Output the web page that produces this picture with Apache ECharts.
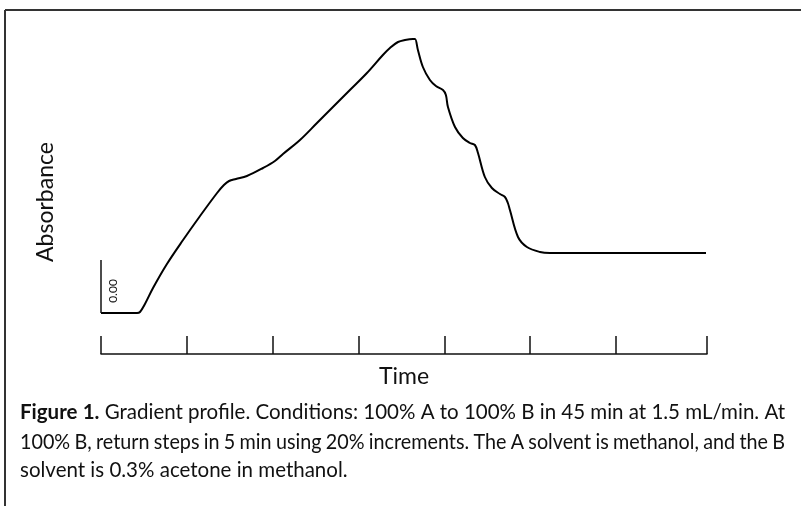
<!DOCTYPE html>
<html>
<head>
<meta charset="utf-8">
<script src="https://cdn.jsdelivr.net/npm/echarts@6/dist/echarts.min.js"></script>
<style>
  html, body { margin: 0; padding: 0; background: #fff; }
  #chart { width: 801px; height: 506px; }
</style>
</head>
<body>
<div id="chart"></div>
<script>
// Time (min) and absorbance (arbitrary units)
const times = [0, 2.10, 2.27, 2.56, 3.03, 3.84, 4.78, 5.77, 6.76, 7.16, 7.46, 7.86, 8.50, 9.44, 10.13, 10.60, 11.59, 12.58, 13.51, 14.50, 15.49, 16.42, 16.83, 17.30, 17.71, 18.17, 18.29, 18.46, 18.75, 19.16, 19.51, 19.92, 20.09, 20.21, 20.62, 21.08, 21.49, 21.78, 21.96, 22.36, 22.77, 23.24, 23.53, 23.70, 23.82, 24.29, 24.81, 25.57, 26.15, 35.24];
const absorbance = [0, 0, 0.01, 0.09, 0.25, 0.49, 0.73, 0.97, 1.20, 1.28, 1.32, 1.34, 1.37, 1.45, 1.52, 1.59, 1.73, 1.90, 2.06, 2.23, 2.40, 2.58, 2.65, 2.71, 2.73, 2.74, 2.74, 2.63, 2.46, 2.33, 2.27, 2.23, 2.18, 2.06, 1.86, 1.75, 1.70, 1.68, 1.60, 1.36, 1.25, 1.19, 1.16, 1.10, 1.03, 0.76, 0.66, 0.61, 0.60, 0.60];
const xTicks = [0, 5, 10, 15, 20, 25, 30, 35.3];
const scaleBar = [0, 0.53];
const scaleBarLabel = '0.00';
const xName = 'Time';
const yName = 'Absorbance';
const captionLines = [
  [{t: 'Figure 1.', bold: true}, {t: 'Gradient profile. Conditions: 100% A to 100% B in 45 min at 1.5 mL/min. At'}],
  [{t: '100% B, return steps in 5 min using 20% increments. The A solvent is methanol, and the B'}],
  [{t: 'solvent is 0.3% acetone in methanol.'}]
];

const FONT = 'Lato, "Open Sans", sans-serif';
const capSize = 20.5;
const capLeft = 20, capRight = 785;
const capY = [412, 442, 470];

const ctx = document.createElement('canvas').getContext('2d');
function measure(word, bold) {
  ctx.font = (bold ? 'bold ' : '') + capSize + 'px ' + FONT;
  return ctx.measureText(word).width;
}
const graphics = [];
const spaceW = measure(' ', false);
captionLines.forEach((segs, li) => {
  const words = [];
  segs.forEach(s => s.t.split(' ').forEach(w => words.push({w, bold: !!s.bold})));
  const widths = words.map(o => measure(o.w, o.bold));
  const total = widths.reduce((a, b) => a + b, 0);
  const justify = li < captionLines.length - 1;
  const target = capRight - capLeft;
  let gap = spaceW, sx = 1;
  if (justify) {
    gap = (target - total) / (words.length - 1);
    if (gap < spaceW * 0.85) {
      gap = spaceW * 0.85;
      sx = target / (total + gap * (words.length - 1));
    }
  }
  let x = 0;
  words.forEach((o, i) => {
    graphics.push({
      type: 'text', x: capLeft + x * sx, y: capY[li], scaleX: sx, silent: true,
      style: { text: o.w, font: (o.bold ? 'bold ' : '') + capSize + 'px ' + FONT, fill: '#111', verticalAlign: 'middle' }
    });
    x += widths[i] + gap;
  });
});
// frame
graphics.push({type: 'line', silent: true, shape: {x1: 5, y1: 10, x2: 801, y2: 10}, style: {stroke: '#333', lineWidth: 2}});
graphics.push({type: 'line', silent: true, shape: {x1: 5, y1: 10, x2: 5, y2: 506}, style: {stroke: '#333', lineWidth: 2}});
// y name
graphics.push({type: 'text', silent: true, x: 46, y: 202, rotation: Math.PI / 2,
  style: {text: yName, font: '23px ' + FONT, fill: '#111', align: 'center', verticalAlign: 'middle'}});
// scale label
graphics.push({type: 'text', silent: true, x: 113, y: 291, rotation: Math.PI / 2,
  style: {text: scaleBarLabel, font: '12px ' + FONT, fill: '#111', align: 'center', verticalAlign: 'middle'}});

const chart = echarts.init(document.getElementById('chart'), null, {renderer: 'canvas'});
chart.setOption({
  backgroundColor: '#fff',
  animation: false,
  grid: {left: 101, right: 94, top: 13, bottom: 152},
  xAxis: {
    type: 'value', min: 0, max: 35.3,
    axisLine: {show: true, onZero: false, lineStyle: {color: '#111', width: 1.5}},
    axisTick: {show: true, inside: true, length: 18, customValues: xTicks, lineStyle: {color: '#111', width: 1.5}},
    axisLabel: {show: false},
    splitLine: {show: false},
    name: xName, nameLocation: 'middle', nameGap: 11,
    nameTextStyle: {fontSize: 23, color: '#111', fontFamily: FONT}
  },
  yAxis: {type: 'value', min: -0.41, max: 3.0, show: false},
  series: [
    {
      type: 'line', data: times.map((t, i) => [t, absorbance[i]]),
      smooth: 0.35, symbol: 'none', clip: false, silent: true,
      lineStyle: {color: '#000', width: 2}
    },
    {
      type: 'line', data: scaleBar.map(v => [0, v]),
      symbol: 'none', clip: false, silent: true,
      lineStyle: {color: '#111', width: 1.5}
    }
  ],
  graphic: graphics
});
</script>
</body>
</html>
